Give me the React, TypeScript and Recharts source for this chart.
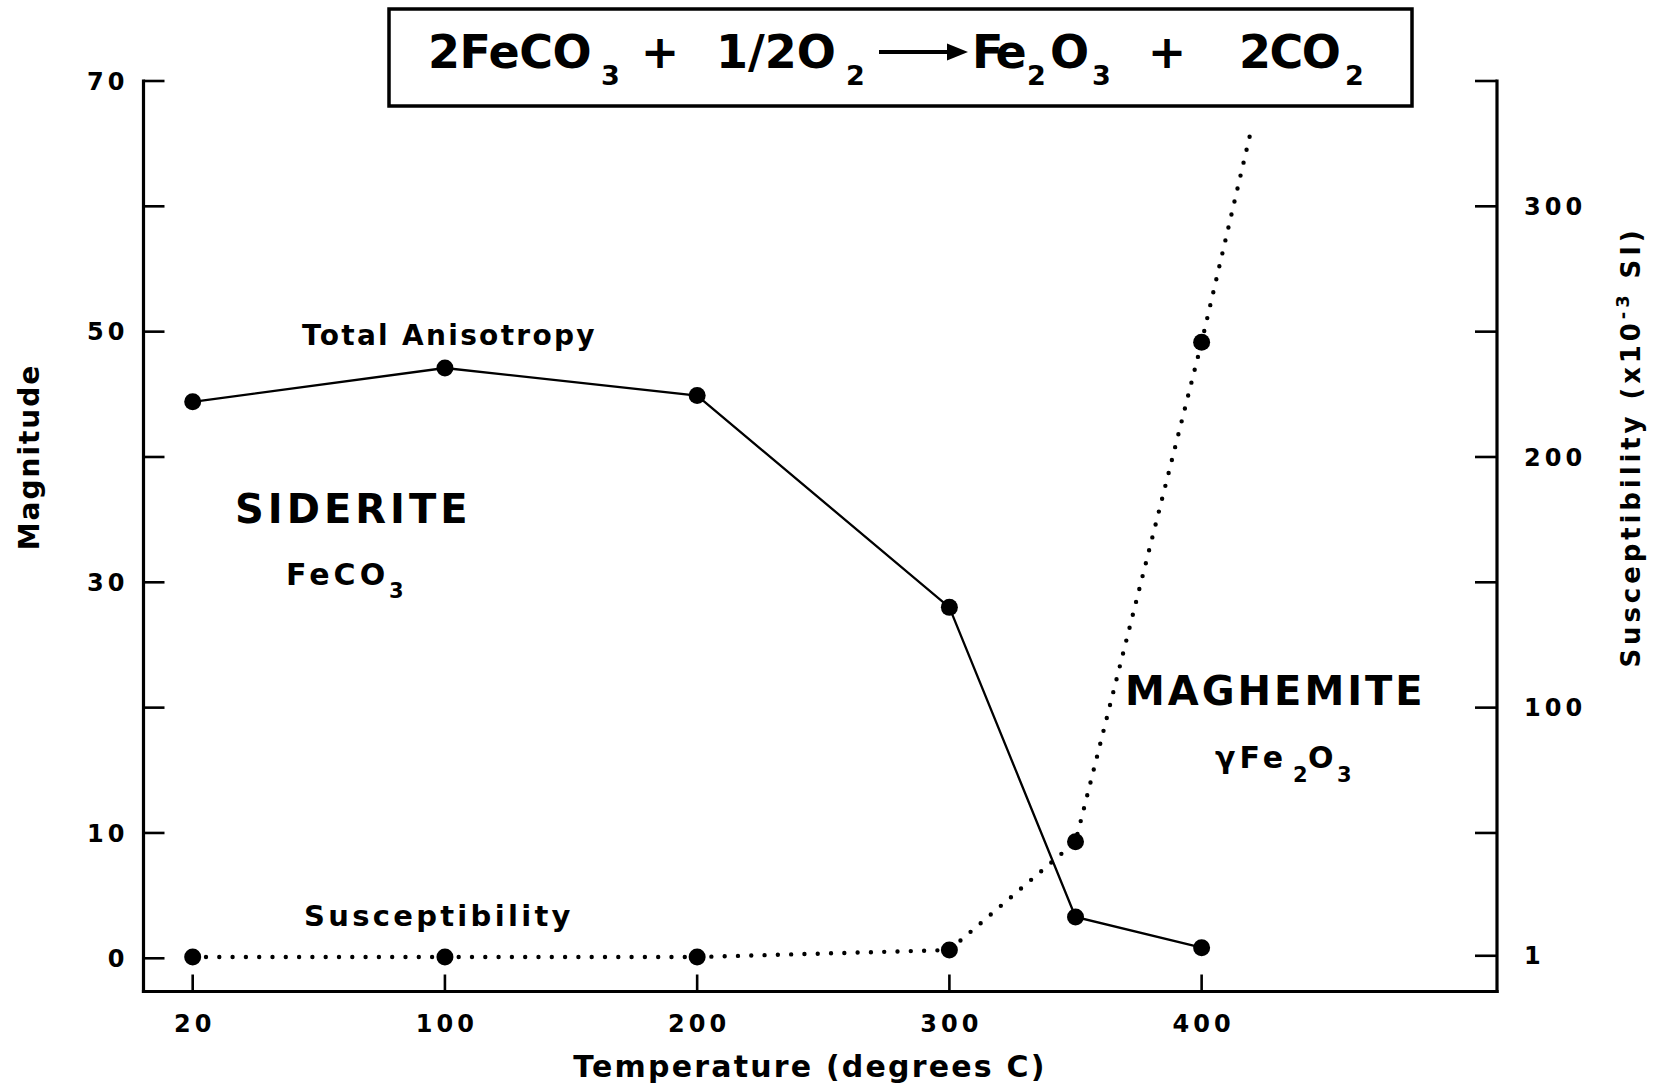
import { LineChart, Line, XAxis, YAxis } from 'recharts';

// measured temperatures; the drawn axis is not linear (20 sits where 0 would be)
const temps = [20, 100, 200, 300, 350, 400];
const axisPos = [0, 100, 200, 300, 350, 400];
const anisotropy = [44.4, 47.1, 44.9, 28.0, 3.3, 0.85];
const susceptibility = [0.5, 0.5, 0.5, 3.3, 46.5, 245.8];

// dotted susceptibility trend carried on past the last reading
const trendPos = [420];
const trendSusc = [332];

const xTicks = [0, 100, 200, 300, 400];
const xTickLabels = ['20', '100', '200', '300', '400'];
const leftTicks = [0, 10, 20, 30, 40, 50, 60, 70];
const leftLabeled = [0, 10, 30, 50, 70];
const rightTicks = [1, 50, 100, 150, 200, 250, 300, 350];
const rightLabeled = [1, 100, 200, 300];

const data = [
  ...temps.map((t, i) => ({
    temp: t,
    pos: axisPos[i],
    anisotropy: anisotropy[i],
    susceptibility: susceptibility[i],
    measured: true,
  })),
  ...trendPos.map((p, i) => ({
    temp: null,
    pos: p,
    anisotropy: null,
    susceptibility: trendSusc[i],
    measured: false,
  })),
];

const FONT = '"DejaVu Sans", Verdana, sans-serif';
const INK = '#000';

const textStyle = (size: number, spacing: number) => ({
  fontFamily: FONT,
  fontWeight: 700,
  fontSize: size,
  letterSpacing: spacing,
  fill: INK,
});

const renderMarker = (p: any) => {
  const { cx, cy, payload, index, dataKey } = p;
  if (!payload?.measured || cx == null || cy == null) return <g key={`${dataKey}-${index}`} />;
  return <circle key={`${dataKey}-${index}`} cx={cx} cy={cy} r={8.5} fill={INK} />;
};

const renderLeftTick = (p: any) => {
  const { x, y, payload } = p;
  const v = payload.value;
  return (
    <g key={`l-${v}`}>
      <line x1={x} x2={x + 21} y1={y} y2={y} stroke={INK} strokeWidth={2.6} />
      {leftLabeled.includes(v) && (
        <text x={x - 15} y={y} dy="0.36em" textAnchor="end" style={textStyle(24, 4)}>
          {v}
        </text>
      )}
    </g>
  );
};

const renderRightTick = (p: any) => {
  const { x, y, payload } = p;
  const v = payload.value;
  return (
    <g key={`r-${v}`}>
      <line x1={x} x2={x - 22} y1={y} y2={y} stroke={INK} strokeWidth={2.6} />
      {rightLabeled.includes(v) && (
        <text x={x + 27} y={y} dy="0.36em" textAnchor="start" style={textStyle(24, 4)}>
          {v}
        </text>
      )}
    </g>
  );
};

const renderXTick = (p: any) => {
  const { x, y, payload } = p;
  const i = xTicks.indexOf(payload.value);
  return (
    <g key={`x-${payload.value}`}>
      <line x1={x} x2={x} y1={y} y2={y - 17} stroke={INK} strokeWidth={2.6} />
      <text x={x + 2} y={y + 40} textAnchor="middle" style={textStyle(24, 4)}>
        {xTickLabels[i]}
      </text>
    </g>
  );
};

const axisLine = { stroke: INK, strokeWidth: 3.2, strokeLinecap: 'square' as const };

function Equation() {
  const big = (ls: number) => textStyle(46, ls);
  const sub = textStyle(27, 0);
  return (
    <g>
      <rect x={389} y={9} width={1023} height={97} fill="none" stroke={INK} strokeWidth={3.5} />
      <text x={428} y={68} style={big(-0.5)}>2FeCO</text>
      <text x={601} y={85} style={sub}>3</text>
      <text x={660} y={68} textAnchor="middle" style={big(0)}>+</text>
      <text x={716} y={68} style={big(0)}>1/2O</text>
      <text x={846} y={85} style={sub}>2</text>
      <line x1={879} x2={952} y1={52} y2={52} stroke={INK} strokeWidth={4} />
      <polygon points="947,43.5 968,52 947,60.5" fill={INK} />
      <text x={972} y={68} style={big(-6)}>Fe</text>
      <text x={1027} y={85} style={sub}>2</text>
      <text x={1050} y={68} style={big(-1)}>O</text>
      <text x={1092} y={85} style={sub}>3</text>
      <text x={1167} y={68} textAnchor="middle" style={big(0)}>+</text>
      <text x={1239} y={68} style={big(-1.5)}>2CO</text>
      <text x={1345} y={85} style={sub}>2</text>
    </g>
  );
}

function Annotations() {
  return (
    <svg
      width={1656}
      height={1084}
      style={{ position: 'absolute', left: 0, top: 0, pointerEvents: 'none' }}
    >
      <Equation />
      <text x={302} y={345} style={textStyle(28, 2.3)}>Total Anisotropy</text>
      <text x={304} y={926} style={textStyle(29, 3.3)}>Susceptibility</text>
      <text x={235} y={523} style={textStyle(40, 4)}>SIDERITE</text>
      <text x={286} y={585} style={textStyle(30, 4)}>FeCO</text>
      <text x={389} y={598} style={textStyle(21, 0)}>3</text>
      <text x={1125} y={705} style={textStyle(40, 3)}>MAGHEMITE</text>
      <text x={1215} y={768} style={textStyle(30, 4)}>γFe</text>
      <text x={1293} y={782} style={textStyle(21, 0)}>2</text>
      <text x={1308} y={768} style={textStyle(30, 0)}>O</text>
      <text x={1337} y={782} style={textStyle(21, 0)}>3</text>
    </svg>
  );
}

export default function App() {
  return (
    <div style={{ position: 'absolute', left: 0, top: 0, width: 1656, height: 1084, background: '#fff' }}>
      <LineChart width={1656} height={1084} data={data} margin={{ top: 81, right: 0, bottom: 0, left: 0 }}>
        <XAxis
          type="number"
          dataKey="pos"
          domain={[-19.5, 517.1]}
          ticks={xTicks}
          interval={0}
          allowDataOverflow
          height={92.5}
          tickSize={0}
          tickMargin={0}
          tickLine={false}
          axisLine={axisLine}
          tick={renderXTick}
          label={{
            content: () => (
              <text x={810} y={1077} textAnchor="middle" style={textStyle(30, 2.2)}>
                Temperature (degrees C)
              </text>
            ),
          }}
        />
        <YAxis
          yAxisId="left"
          orientation="left"
          type="number"
          domain={[-2.65, 70]}
          ticks={leftTicks}
          interval={0}
          allowDataOverflow
          width={143.5}
          tickSize={0}
          tickMargin={0}
          tickLine={false}
          axisLine={axisLine}
          tick={renderLeftTick}
          label={{
            content: () => (
              <text
                x={39}
                y={457}
                textAnchor="middle"
                transform="rotate(-90 39 457)"
                style={textStyle(28, 2)}
              >
                Magnitude
              </text>
            ),
          }}
        />
        <YAxis
          yAxisId="right"
          orientation="right"
          type="number"
          domain={[-13.25, 350]}
          ticks={rightTicks}
          interval={0}
          allowDataOverflow
          width={159}
          tickSize={0}
          tickMargin={0}
          tickLine={false}
          axisLine={axisLine}
          tick={renderRightTick}
          label={{
            content: () => (
              <text
                x={1640}
                y={447}
                textAnchor="middle"
                transform="rotate(-90 1640 447)"
                style={textStyle(26, 3.9)}
              >
                Susceptibility (x10
                <tspan dy={-11} fontSize={18}>-3</tspan>
                <tspan dy={11}> SI)</tspan>
              </text>
            ),
          }}
        />
        <Line
          yAxisId="right"
          dataKey="susceptibility"
          type="linear"
          stroke={INK}
          strokeWidth={4.4}
          strokeDasharray="0 13.3"
          strokeLinecap="round"
          dot={renderMarker}
          activeDot={false}
          isAnimationActive={false}
        />
        <Line
          yAxisId="left"
          dataKey="anisotropy"
          type="linear"
          stroke={INK}
          strokeWidth={2.3}
          dot={renderMarker}
          activeDot={false}
          isAnimationActive={false}
        />
      </LineChart>
      <Annotations />
    </div>
  );
}
